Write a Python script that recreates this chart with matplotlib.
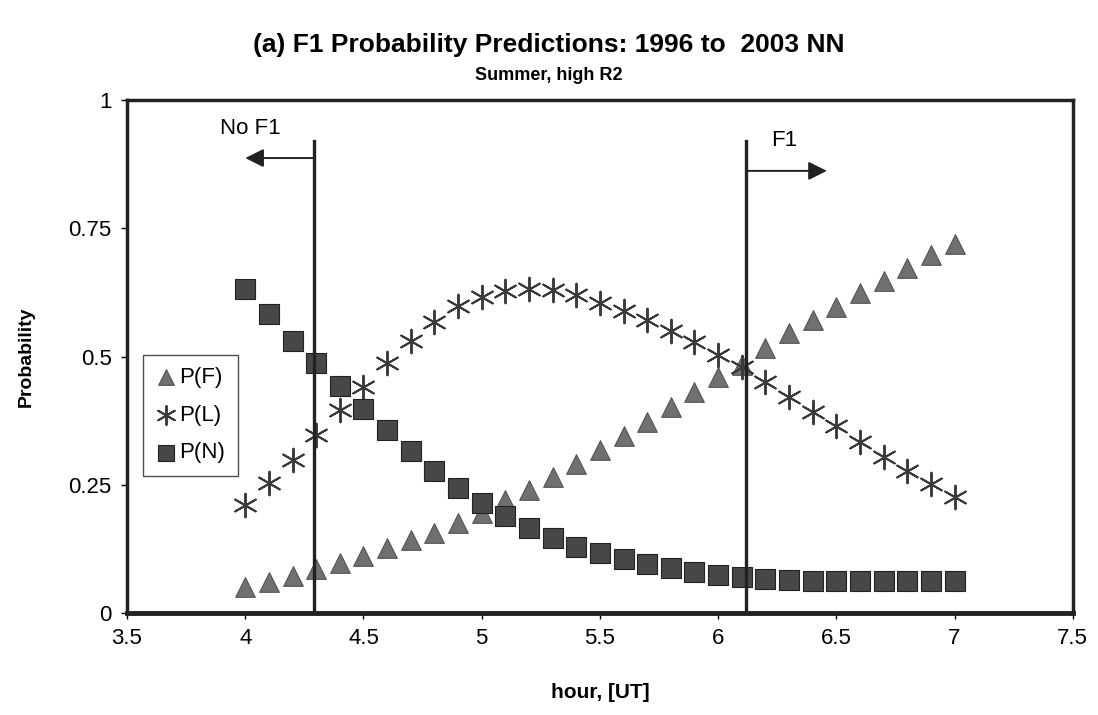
import numpy as np
import matplotlib
matplotlib.use("Agg")
import matplotlib.pyplot as plt

plt.rcParams.update({
    "font.family": ["Liberation Sans", "DejaVu Sans"],
    "font.size": 14,
})

# ---------------------------------------------------------------------------
# Data
# ---------------------------------------------------------------------------
hours = [4.0, 4.1, 4.2, 4.3, 4.4, 4.5, 4.6, 4.7, 4.8, 4.9, 5.0,
         5.1, 5.2, 5.3, 5.4, 5.5, 5.6, 5.7, 5.8, 5.9, 6.0,
         6.1, 6.2, 6.3, 6.4, 6.5, 6.6, 6.7, 6.8, 6.9, 7.0]

p_f = [0.051, 0.060, 0.072, 0.086, 0.098, 0.111, 0.127, 0.142, 0.156, 0.175, 0.195,
       0.220, 0.240, 0.265, 0.290, 0.318, 0.345, 0.372, 0.402, 0.431, 0.460,
       0.483, 0.517, 0.546, 0.571, 0.597, 0.624, 0.647, 0.672, 0.698, 0.720]

p_l = [0.210, 0.253, 0.298, 0.347, 0.396, 0.440, 0.487, 0.530, 0.567, 0.598, 0.616,
       0.627, 0.632, 0.629, 0.620, 0.604, 0.589, 0.571, 0.550, 0.528, 0.503,
       0.480, 0.450, 0.421, 0.392, 0.364, 0.333, 0.304, 0.277, 0.251, 0.226]

p_n = [0.632, 0.583, 0.530, 0.487, 0.442, 0.398, 0.357, 0.316, 0.277, 0.244, 0.214,
       0.189, 0.166, 0.146, 0.129, 0.117, 0.105, 0.095, 0.087, 0.080, 0.074,
       0.070, 0.067, 0.064, 0.062, 0.062, 0.062, 0.062, 0.062, 0.063, 0.063]

# threshold lines and annotations
no_f1_hour = 4.29
f1_hour = 6.12
line_top = 0.92

x_ticks = [3.5, 4, 4.5, 5, 5.5, 6, 6.5, 7, 7.5]
x_tick_labels = ["3.5", "4", "4.5", "5", "5.5", "6", "6.5", "7", "7.5"]
y_ticks = [0, 0.25, 0.5, 0.75, 1]
y_tick_labels = ["0", "0.25", "0.5", "0.75", "1"]

# ---------------------------------------------------------------------------
# Plot
# ---------------------------------------------------------------------------
fig = plt.figure(figsize=(10.98, 7.15), dpi=100)
ax = fig.add_axes([0.1157, 0.1427, 0.8613, 0.7173])

ax.scatter(hours, p_f, marker="^", s=200, color="#707070",
           edgecolor="#555555", linewidth=0.8, label="P(F)", zorder=3)
ax.scatter(hours, p_l, marker=(6, 2, 0), s=290, color="#3a3a3a",
           linewidth=1.4, label="P(L)", zorder=3)
ax.scatter(hours, p_n, marker="s", s=200, color="#474747",
           edgecolor="#222222", linewidth=0.8, label="P(N)", zorder=3)

ax.plot([no_f1_hour, no_f1_hour], [0, line_top], color="#222222", lw=2.4, zorder=4)
ax.plot([f1_hour, f1_hour], [0, line_top], color="#222222", lw=2.4, zorder=4)

ax.annotate("", xy=(4.0, 0.887), xytext=(no_f1_hour, 0.887),
            arrowprops=dict(arrowstyle="-|>", color="#222222", lw=1.4,
                            mutation_scale=28, shrinkA=0, shrinkB=0))
ax.text(4.02, 0.945, "No F1", ha="center", va="center", fontsize=16)

ax.annotate("", xy=(6.46, 0.862), xytext=(f1_hour, 0.862),
            arrowprops=dict(arrowstyle="-|>", color="#222222", lw=1.4,
                            mutation_scale=28, shrinkA=0, shrinkB=0))
ax.text(6.28, 0.922, "F1", ha="center", va="center", fontsize=16)

ax.set_xlim(3.5, 7.5)
ax.set_ylim(0, 1)
ax.set_xticks(x_ticks)
ax.set_xticklabels(x_tick_labels)
ax.set_yticks(y_ticks)
ax.set_yticklabels(y_tick_labels)
ax.tick_params(direction="out", length=4, width=1, labelsize=16, pad=7)

for side in ["top", "left", "right"]:
    ax.spines[side].set_linewidth(2.5)
ax.spines["bottom"].set_linewidth(3.5)
for sp in ax.spines.values():
    sp.set_color("#222222")

ax.set_xlabel("hour, [UT]", fontsize=15, fontweight="bold", labelpad=24)
ax.set_ylabel("Probability", fontsize=14, fontweight="bold", labelpad=24)

leg = ax.legend(loc="upper left", bbox_to_anchor=(0.005, 0.525), fontsize=16,
                frameon=True, fancybox=False, edgecolor="#222222",
                handletextpad=0.1, borderpad=0.55, labelspacing=0.75,
                handlelength=1.0, markerscale=0.8)
leg.get_frame().set_linewidth(1.0)

fig.text(0.5, 0.937, "(a) F1 Probability Predictions: 1996 to  2003 NN",
         ha="center", va="center", fontsize=19, fontweight="bold")
fig.text(0.5, 0.895, "Summer, high R2", ha="center", va="center",
         fontsize=13, fontweight="bold")

fig.savefig("out.png", dpi=100)
